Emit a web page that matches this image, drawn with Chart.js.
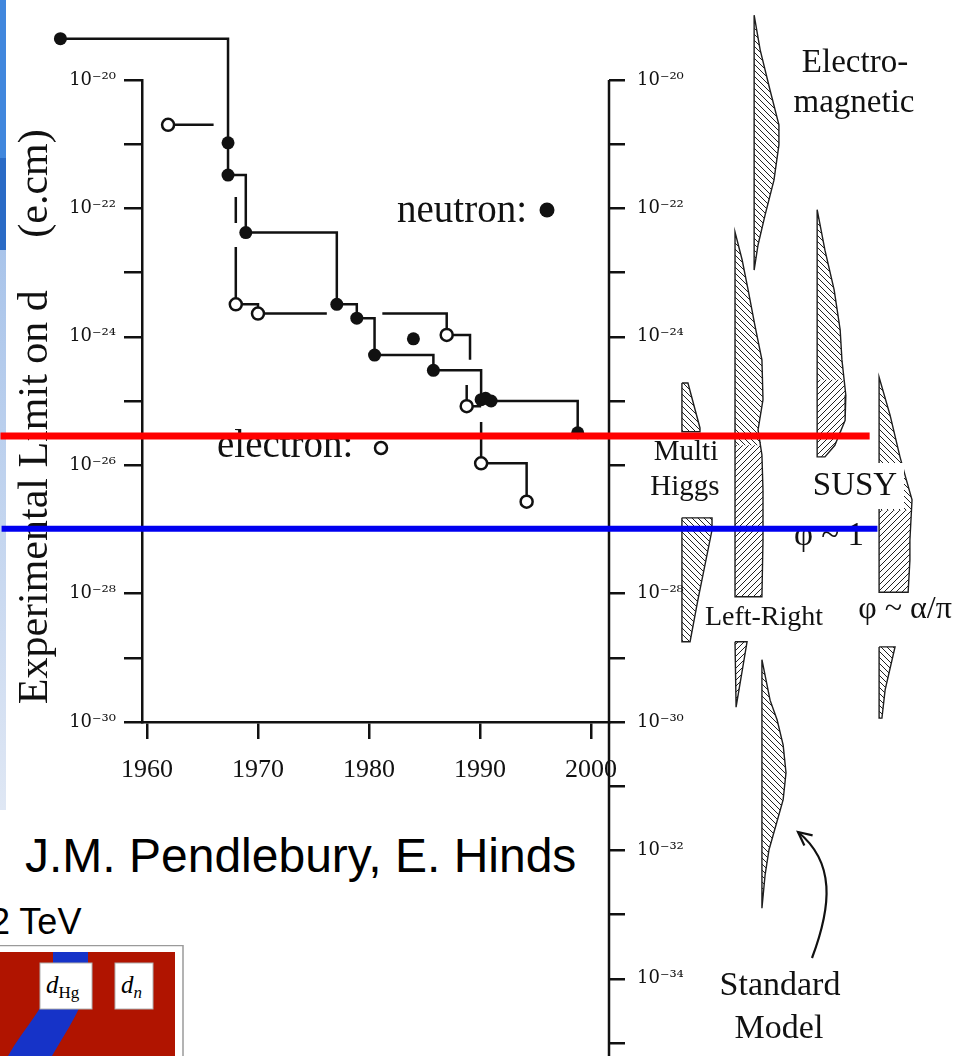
<!DOCTYPE html>
<html>
<head>
<meta charset="utf-8">
<title>Experimental limits on electric dipole moments</title>
<script src="https://cdn.jsdelivr.net/npm/chart.js"></script>
<style>
  html, body { margin: 0; padding: 0; background: #fff; }
  #page { position: relative; width: 963px; height: 1056px; overflow: hidden; background: #fff; }
  #page canvas { position: absolute; left: 0; top: 0; }
  .strip { position: absolute; left: 0; width: 6px; }
  #credit { position: absolute; left: 25px; top: 832px; font: 48px/48px 'Liberation Sans', Arial, sans-serif; color: #000; white-space: nowrap; }
  #tev { position: absolute; left: -10px; top: 904px; font: 36px/36px 'Liberation Sans', Arial, sans-serif; color: #000; white-space: nowrap; }
  #inset { position: absolute; left: 0; top: 945px; }
</style>
</head>
<body>
<div id="page">
  <div class="strip" style="top:0;height:158px;background:#4187dd"></div>
  <div class="strip" style="top:158px;height:92px;background:#2a6bc6"></div>
  <div class="strip" style="top:250px;height:560px;background:linear-gradient(#a9c4ea,#dfe7f4)"></div>
  <div id="credit">J.M. Pendlebury, E. Hinds</div>
  <div id="tev">2 TeV</div>
  <svg id="inset" width="190" height="111" viewBox="0 0 190 111">
    <rect x="-2" y="0.5" width="185" height="130" fill="#fff" stroke="#9a9a9a" stroke-width="1.5"/>
    <rect x="0" y="7" width="175" height="110" fill="#b01400"/>
    <path d="M53 7 L88 7 L88 30 C86 60 66 86 52 111 L8 111 C24 82 50 58 53 30 Z" fill="#1633c8"/>
    <rect x="40" y="18" width="52" height="46" fill="#fff" stroke="#b0b0b0"/>
    <rect x="115" y="18" width="38" height="46" fill="#fff" stroke="#b0b0b0"/>
    <text x="46" y="48" font-family="Liberation Serif" font-size="25" font-style="italic">d<tspan font-style="normal" font-size="17" dy="5">Hg</tspan></text>
    <text x="121" y="48" font-family="Liberation Serif" font-size="25" font-style="italic">d<tspan font-size="17" dy="5">n</tspan></text>
  </svg>
  <canvas id="theoryChart" width="963" height="1056"></canvas>
  <canvas id="limitChart" width="963" height="800"></canvas>
</div>

<script>
// ---- measured limits (year, d in e.cm) ----
var neutronYears  = [1952.2, 1967.3, 1967.3, 1968.9, 1977.1, 1978.9, 1980.5, 1985.8, 1990.1, 1990.5, 1991.0, 1998.8];
var neutronLimits = [4.4e-20, 1.05e-21, 3.3e-22, 4.2e-23, 3.2e-24, 1.95e-24, 5.2e-25, 3.0e-25, 1.05e-25, 1.1e-25, 1.0e-25, 3.2e-26];
var neutronSoloYears  = [1984.0];
var neutronSoloLimits = [9.3e-25];

var electronYears  = [1961.9, 1968.0, 1970.0, 1987.0, 1988.8, 1990.1, 1994.2];
var electronLimits = [2.0e-21, 3.2e-24, 2.3e-24, 1.07e-24, 8.3e-26, 1.07e-26, 2.7e-27];

// electron step line as drawn in the figure (null = break in the line)
var electronPathYears  = [1961.9, 1966.0, 1966.0, 1968.0, 1968.0, 1968.0, 1968.0, 1968.0, 1970.0, 1970.0, 1976.2, 1976.2, 1981.2,
                          1987.0, 1987.0, 1989.1, 1989.1, 1989.1, 1988.8, 1988.8, 1990.1, 1990.1, 1990.1, 1990.1, 1994.2, 1994.2];
var electronPathLimits = [2.0e-21, 2.0e-21, null, 1.5e-22, 5.9e-23, null, 2.5e-23, 3.2e-24, 3.2e-24, 2.3e-24, 2.3e-24, null, 2.3e-24,
                          2.3e-24, 1.07e-24, 1.07e-24, 4.4e-25, null, 1.78e-25, 8.3e-26, 8.3e-26, null, 4.7e-26, 1.07e-26, 1.07e-26, 2.7e-27];

// red and blue levels drawn across the slide
var redLineYears   = [1946.8, 2025.1];
var redLineLimits  = [2.85e-26, 2.85e-26];
var blueLineYears  = [1946.9, 1946.9, 2025.8];
var blueLineLimits = [8.3e-30, 1.02e-27, 1.02e-27];

var yearTicks = [1960, 1970, 1980, 1990, 2000];

// ---- theory predictions: x across the right panel (0-100), log10(d) ----
var emBandX   = [41.0, 41.0, 42.7, 45.5, 48.0, 48.0, 46.6, 44.1, 42.1, 41.0];
var emBandLog = [-20.85, -18.99, -19.53, -20.16, -20.70, -21.01, -21.56, -22.10, -22.57, -22.96];

var lrBandX   = [35.6, 35.6, 37.6, 39.3, 41.2, 43.2, 43.5, 42.1, 43.2, 43.5, 43.5, 43.2, 35.6];
var lrBandLog = [-25.0, -22.37, -22.80, -23.27, -23.82, -24.36, -24.98, -25.45, -25.84, -26.39, -27.17, -28.05, -28.05];
var lrUpperX   = [35.6, 35.6, 37.6, 39.3, 41.2, 43.2, 43.5, 42.1, 43.0, 35.6];
var lrUpperLog = [-25.0, -22.37, -22.80, -23.27, -23.82, -24.36, -24.98, -25.45, -25.69, -25.69];
var lrLowerX   = [35.6, 43.0, 43.2, 43.5, 43.5, 43.2, 35.6];
var lrLowerLog = [-25.69, -25.69, -25.84, -26.39, -27.17, -28.05, -28.05];
var lrTailX   = [35.6, 39.0, 35.9];
var lrTailLog = [-28.75, -28.75, -29.77];

var smBandX   = [43.2, 43.2, 45.5, 47.5, 49.2, 50.0, 49.2, 47.2, 45.2, 44.1, 43.2];
var smBandLog = [-31.0, -29.03, -29.66, -29.97, -30.36, -30.79, -31.21, -31.60, -31.99, -32.38, -32.90];

var mhUpperX   = [20.6, 22.3, 25.7, 25.7, 20.6];
var mhUpperLog = [-24.72, -24.72, -25.42, -25.48, -25.48];
var mhLowerX   = [20.6, 29.1, 29.1, 25.1, 22.9, 20.6];
var mhLowerLog = [-26.82, -26.82, -27.01, -28.10, -28.75, -28.75];

var susyBandX   = [58.8, 58.8, 61.0, 63.6, 65.3, 65.8, 66.9, 66.7, 63.8, 61.0, 58.8];
var susyBandLog = [-24.0, -22.02, -22.65, -23.27, -23.89, -24.36, -24.91, -25.30, -25.69, -25.87, -25.87];
var susyUpperX   = [58.8, 58.8, 61.0, 63.6, 65.3, 65.8, 66.2, 58.8];
var susyUpperLog = [-24.0, -22.02, -22.65, -23.27, -23.89, -24.36, -24.67, -24.67];
var susyLowerX   = [58.8, 66.2, 66.9, 66.7, 63.8, 61.0, 58.8];
var susyLowerLog = [-24.67, -24.67, -24.91, -25.30, -25.69, -25.87, -25.87];

var apBandX   = [76.3, 76.3, 79.4, 82.2, 83.6, 85.6, 85.0, 85.0, 84.5, 76.3];
var apBandLog = [-26.0, -24.63, -25.22, -25.87, -26.15, -26.54, -27.17, -27.48, -27.98, -27.98];
var apUpperX   = [76.3, 76.3, 79.4, 82.2, 83.6, 85.6, 85.4, 76.3];
var apUpperLog = [-26.0, -24.63, -25.22, -25.87, -26.15, -26.54, -26.7, -26.7];
var apLowerX   = [76.3, 85.4, 85.0, 85.0, 84.5, 76.3];
var apLowerLog = [-26.7, -26.7, -27.17, -27.48, -27.98, -27.98];
var apTailX   = [76.3, 80.8, 78.0, 77.1, 76.3];
var apTailLog = [-28.83, -28.83, -29.50, -29.94, -29.94];

var SERIF = "'Liberation Serif', 'Times New Roman', serif";
var TICK_FONT = "'DejaVu Serif', serif";
Chart.defaults.font.family = SERIF;
Chart.defaults.color = '#111';

function points(xs, ys) {
    return xs.map(function(x, i) { return {x: x, y: ys[i]}; });
}

var SUP = {'-': '\u207b', '0': '\u2070', '1': '\u00b9', '2': '\u00b2', '3': '\u00b3', '4': '\u2074',
           '5': '\u2075', '6': '\u2076', '7': '\u2077', '8': '\u2078', '9': '\u2079'};

// only even powers carry a label, every decade gets a tick
function powerLabel(value) {
    var exp = Math.round(Math.log10(value));
    if (exp % 2 !== 0) return '';
    return '10' + String(exp).split('').map(function(c) { return SUP[c]; }).join('');
}

function decadeTicks(lo, hi) {
    return function(scale) {
        var ticks = [];
        for (var e = lo; e <= hi; e++) ticks.push({value: Math.pow(10, e)});
        scale.ticks = ticks;
    };
}

function hatch(dir) {
    var s = 6;
    var c = document.createElement('canvas');
    c.width = c.height = s;
    var g = c.getContext('2d');
    g.strokeStyle = '#222';
    g.lineWidth = 1;
    g.beginPath();
    if (dir === 'back') {
        g.moveTo(-1, -1); g.lineTo(s + 1, s + 1);
        g.moveTo(s - 1, -1); g.lineTo(s + 1, 1);
        g.moveTo(-1, s - 1); g.lineTo(1, s + 1);
    } else {
        g.moveTo(-1, s + 1); g.lineTo(s + 1, -1);
        g.moveTo(-1, 1); g.lineTo(1, -1);
        g.moveTo(s - 1, s + 1); g.lineTo(s + 1, s - 1);
    }
    g.stroke();
    return g.createPattern(c, 'repeat');
}

var BACK = hatch('back');
var FWD = hatch('fwd');

/**
 * Hatched fill for one band. The path is closed and then runs out to the
 * widest vertex, so the filler clips between the left and right extent.
 */
function bandFill(xs, logs, pattern) {
    var pts = xs.map(function(x, i) { return {x: x, y: Math.pow(10, logs[i])}; });
    var widest = 0;
    xs.forEach(function(x, i) { if (x > xs[widest]) widest = i; });
    pts.push({x: xs[0], y: pts[0].y});
    pts.push({x: xs[widest], y: pts[widest].y});
    return {
        data: pts, fill: 'shape', backgroundColor: pattern,
        borderColor: 'rgba(0,0,0,0)', borderWidth: 1, pointRadius: 0, clip: false
    };
}

function bandOutline(xs, logs) {
    var pts = xs.map(function(x, i) { return {x: x, y: Math.pow(10, logs[i])}; });
    pts.push({x: xs[0], y: pts[0].y});
    return {
        data: pts, fill: false, borderColor: '#1e1e1e', borderWidth: 1.4,
        pointRadius: 0, clip: false
    };
}

var theorySets = [
    bandOutline(emBandX, emBandLog),
    bandOutline(lrBandX, lrBandLog),
    bandOutline(lrTailX, lrTailLog),
    bandOutline(smBandX, smBandLog),
    bandOutline(mhUpperX, mhUpperLog),
    bandOutline(mhLowerX, mhLowerLog),
    bandOutline(susyBandX, susyBandLog),
    bandOutline(apBandX, apBandLog),
    bandOutline(apTailX, apTailLog),
    bandFill(emBandX, emBandLog, BACK),
    bandFill(lrUpperX, lrUpperLog, BACK),
    bandFill(lrLowerX, lrLowerLog, FWD),
    bandFill(lrTailX, lrTailLog, FWD),
    bandFill(smBandX, smBandLog, BACK),
    bandFill(mhUpperX, mhUpperLog, BACK),
    bandFill(mhLowerX, mhLowerLog, BACK),
    bandFill(susyUpperX, susyUpperLog, BACK),
    bandFill(susyLowerX, susyLowerLog, FWD),
    bandFill(apUpperX, apUpperLog, BACK),
    bandFill(apLowerX, apLowerLog, FWD),
    bandFill(apTailX, apTailLog, BACK)
];

// points that lie outside the plot frame are skipped by Chart.js, draw them here
var overflowPoints = {
    id: 'overflowPoints',
    afterDatasetsDraw: function(chart) {
        var a = chart.chartArea;
        var full = {left: 0, top: 0, right: chart.width, bottom: chart.height};
        chart.data.datasets.forEach(function(ds, i) {
            chart.getDatasetMeta(i).data.forEach(function(pt) {
                if (pt.x < a.left || pt.x > a.right || pt.y < a.top || pt.y > a.bottom) {
                    pt.draw(chart.ctx, full);
                }
            });
        });
    }
};

// labels, axis spine and arrow of the theory panel
var theoryNotes = {
    id: 'theoryNotes',
    afterDatasetsDraw: function(chart) {
        var ctx = chart.ctx;
        var y = chart.scales.y;
        ctx.save();

        ctx.strokeStyle = '#111';
        ctx.lineWidth = 2.5;
        ctx.beginPath();
        ctx.moveTo(y.right, y.getPixelForValue(1e-20));
        ctx.lineTo(y.right, chart.chartArea.bottom);
        ctx.stroke();

        // white patches behind "SUSY" and "Multi Higgs"
        ctx.fillStyle = '#fff';
        ctx.fillRect(808, 463, 96, 46);
        ctx.fillRect(630, 436, 92, 69);

        var notes = [
            ['Electro-', 855, 72, 33], ['magnetic', 854, 112, 33],
            ['Multi', 686, 460, 29], ['Higgs', 685, 495, 29],
            ['SUSY', 855, 495, 33], ['\u03c6 ~ 1', 829, 545, 33],
            ['Left-Right', 764, 625, 28], ['\u03c6 ~ \u03b1/\u03c0', 905, 618, 32],
            ['Standard', 780, 995, 34], ['Model', 779, 1038, 34]
        ];
        ctx.fillStyle = '#111';
        ctx.textAlign = 'center';
        ctx.textBaseline = 'alphabetic';
        notes.forEach(function(n) {
            ctx.font = n[3] + 'px ' + SERIF;
            ctx.fillText(n[0], n[1], n[2]);
        });

        // arrow pointing at the Standard Model band
        ctx.lineWidth = 2.2;
        ctx.beginPath();
        ctx.moveTo(812, 958);
        ctx.bezierCurveTo(832, 905, 835, 862, 798, 832);
        ctx.stroke();
        var ang = Math.atan2(832 - 862, 798 - 835);
        ctx.beginPath();
        ctx.moveTo(798 - 15 * Math.cos(ang - 0.45), 832 - 15 * Math.sin(ang - 0.45));
        ctx.lineTo(798, 832);
        ctx.lineTo(798 - 15 * Math.cos(ang + 0.45), 832 - 15 * Math.sin(ang + 0.45));
        ctx.stroke();
        ctx.restore();
    }
};

new Chart(document.getElementById('theoryChart'), {
    type: 'line',
    data: { datasets: theorySets },
    options: {
        responsive: false,
        animation: false,
        events: [],
        layout: { padding: 0 },
        plugins: { legend: { display: false }, tooltip: { enabled: false } },
        scales: {
            x: { type: 'linear', min: 0, max: 100, display: false },
            y: {
                type: 'logarithmic',
                position: 'left',
                min: Math.pow(10, -35.2025),
                max: Math.pow(10, -18.7539),
                afterBuildTicks: decadeTicks(-35, -20),
                afterFit: function(s) { s.width = 609; s.paddingTop = 0; s.paddingBottom = 0; },
                border: { display: false },
                grid: { drawOnChartArea: false, drawTicks: true, tickLength: -16, color: '#111', lineWidth: 2.5 },
                ticks: { mirror: true, padding: 28, autoSkip: false, callback: powerLabel,
                         font: { family: TICK_FONT, size: 18 }, color: '#111' }
            }
        }
    },
    plugins: [theoryNotes]
});

// "neutron: ●" and "electron: ○" key inside the plot
var limitKey = {
    id: 'limitKey',
    beforeDatasetsDraw: function(chart) {
        var ctx = chart.ctx;
        ctx.save();
        ctx.font = '39px ' + SERIF;
        ctx.fillStyle = '#111';
        ctx.textBaseline = 'alphabetic';
        ctx.fillText('neutron:', 397, 222);
        ctx.fillText('electron:', 217, 457);
        ctx.beginPath();
        ctx.arc(547, 210, 7.5, 0, 2 * Math.PI);
        ctx.fill();
        ctx.beginPath();
        ctx.arc(381, 448, 6, 0, 2 * Math.PI);
        ctx.fillStyle = '#fff';
        ctx.fill();
        ctx.lineWidth = 2.5;
        ctx.strokeStyle = '#111';
        ctx.stroke();
        ctx.restore();
    }
};

var NBSP = '\u00a0';
var limitSets = [
    { data: points(blueLineYears, blueLineLimits), borderColor: '#0000f0', borderWidth: 6,
      pointRadius: 0, clip: false, fill: false },
    { data: points(redLineYears, redLineLimits), borderColor: '#ff0000', borderWidth: 7,
      pointRadius: 0, clip: false, fill: false },
    { data: points(neutronYears, neutronLimits), stepped: true, borderColor: '#111', borderWidth: 2.5,
      pointRadius: 6.5, pointBackgroundColor: '#111', pointBorderColor: '#111', pointBorderWidth: 0,
      clip: false, fill: false },
    { data: points(neutronSoloYears, neutronSoloLimits), showLine: false,
      pointRadius: 6.5, pointBackgroundColor: '#111', pointBorderWidth: 0, clip: false },
    { data: points(electronYears, electronLimits), showLine: false,
      pointRadius: 6, pointBackgroundColor: '#fff', pointBorderColor: '#111', pointBorderWidth: 2.5, clip: false },
    { data: points(electronPathYears, electronPathLimits), borderColor: '#111', borderWidth: 2.5,
      pointRadius: 0, clip: false, fill: false, spanGaps: false }
];

new Chart(document.getElementById('limitChart'), {
    type: 'line',
    data: { datasets: limitSets },
    options: {
        responsive: false,
        animation: false,
        events: [],
        layout: { padding: { left: 0, top: 80, right: 354, bottom: 0 } },
        plugins: { legend: { display: false }, tooltip: { enabled: false } },
        scales: {
            x: {
                type: 'linear',
                min: 1959.55,
                max: 2001.62,
                afterBuildTicks: function(s) { s.ticks = yearTicks.map(function(v) { return {value: v}; }); },
                afterFit: function(s) { s.height = 78; s.paddingLeft = 0; s.paddingRight = 0; },
                border: { display: true, color: '#111', width: 2.5 },
                grid: { drawOnChartArea: false, tickLength: 17, color: '#111', lineWidth: 2.5 },
                ticks: { autoSkip: false, maxRotation: 0, padding: 16, font: { size: 26 }, color: '#111',
                         callback: function(v) { return String(v); } }
            },
            y: {
                type: 'logarithmic',
                min: 1e-30,
                max: 1e-20,
                afterBuildTicks: decadeTicks(-30, -20),
                afterFit: function(s) { s.width = 142; s.paddingTop = 0; s.paddingBottom = 0; },
                border: { display: true, color: '#111', width: 2.5 },
                grid: { drawOnChartArea: false, tickLength: 18, color: '#111', lineWidth: 2.5 },
                ticks: { autoSkip: false, padding: 8, font: { family: TICK_FONT, size: 18 }, color: '#111', callback: powerLabel },
                title: {
                    display: true,
                    text: 'Experimental Limit on d' + NBSP.repeat(5) + '(e.cm)' + NBSP.repeat(3),
                    font: { size: 42 },
                    color: '#111',
                    padding: { top: 11, bottom: 0 }
                }
            }
        }
    },
    plugins: [limitKey, overflowPoints]
});
</script>
</body>
</html>
